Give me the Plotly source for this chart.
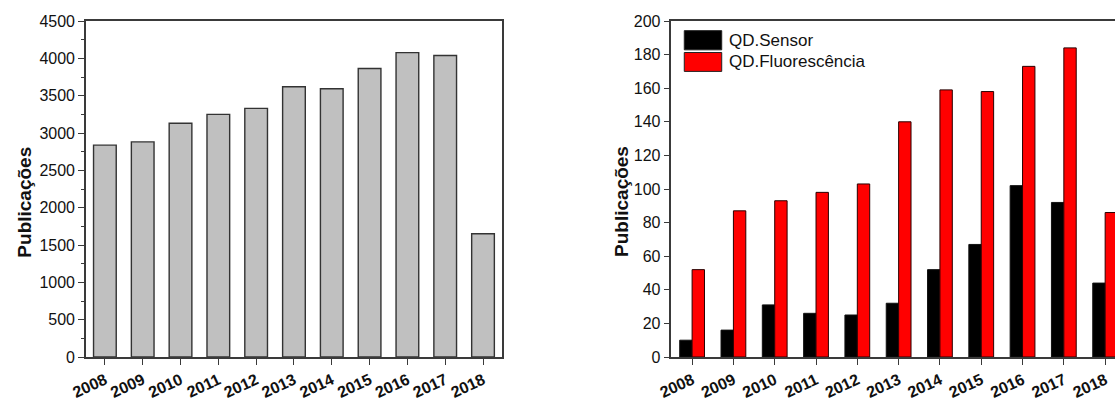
import plotly.graph_objects as go

# Publication counts per year
years = ["2008", "2009", "2010", "2011", "2012", "2013", "2014", "2015", "2016", "2017", "2018"]
total_pubs = [2837, 2881, 3130, 3250, 3330, 3619, 3593, 3864, 4077, 4037, 1650]
sensor_pubs = [10, 16, 31, 26, 25, 32, 52, 67, 102, 92, 44]
fluor_pubs = [52, 87, 93, 98, 103, 140, 159, 158, 173, 184, 86]
left_yticks = [0, 500, 1000, 1500, 2000, 2500, 3000, 3500, 4000, 4500]
right_yticks = [0, 20, 40, 60, 80, 100, 120, 140, 160, 180, 200]

W, H = 1115, 401
FONT = "Liberation Sans, Arial, sans-serif"
AXIS_COLOR = "#3a3a3a"

# Pixel layout of the two panels
L_X0, L_X1 = 71, 493
R_X0 = 665
R_W = W - R_X0
PLOT_TOP, PLOT_H = 21, 338

fig = go.Figure()

fig.add_trace(go.Bar(
    x=years, y=total_pubs, xaxis="x", yaxis="y", showlegend=False,
    marker=dict(color="#c0c0c0", line=dict(color="#333333", width=1.4)),
))
fig.add_trace(go.Bar(
    x=years, y=sensor_pubs, xaxis="x2", yaxis="y2", name="QD.Sensor", showlegend=False,
    marker=dict(color="#000000", line=dict(color="#111111", width=1)),
))
fig.add_trace(go.Bar(
    x=years, y=fluor_pubs, xaxis="x2", yaxis="y2", name="QD.Fluorescência", showlegend=False,
    marker=dict(color="#ff0000", line=dict(color="#2a0000", width=1)),
))

xcommon = dict(
    type="category", showgrid=False, zeroline=False,
    showline=True, linecolor=AXIS_COLOR, linewidth=1.6,
    ticks="outside", ticklen=6, tickwidth=1.3, tickcolor=AXIS_COLOR,
    tickangle=-25,
    tickfont=dict(family=FONT, size=16, color="#111111", weight="bold"),
    fixedrange=True,
)
ycommon = dict(
    showgrid=False, zeroline=False,
    showline=True, linecolor=AXIS_COLOR, linewidth=1.6,
    ticks="outside", ticklen=6, tickwidth=1.3, tickcolor=AXIS_COLOR,
    tickfont=dict(family=FONT, size=16, color="#111111"),
    fixedrange=True,
)

n_vis = (W - R_X0) / ((1105 - R_X0) / 10.5) - 0.5

fig.update_layout(
    width=W, height=H,
    margin=dict(l=0, r=0, t=PLOT_TOP, b=H - PLOT_TOP - PLOT_H),
    paper_bgcolor="white", plot_bgcolor="white",
    barmode="group", bargap=0.4, bargroupgap=0,
    font=dict(family=FONT),
    xaxis=dict(**xcommon, domain=[L_X0 / W, L_X1 / W], range=[-0.5, 10.5],
               mirror=True, anchor="y"),
    yaxis=dict(**ycommon, domain=[0, 1], range=[0, 4500],
               tickvals=left_yticks, mirror=True, anchor="x",
               minor=dict(dtick=250, ticks="outside", ticklen=3,
                          tickwidth=1.2, tickcolor=AXIS_COLOR, showgrid=False)),
    xaxis2=dict(**xcommon, domain=[R_X0 / W, 1], range=[-0.5, n_vis],
                mirror=True, anchor="y2"),
    yaxis2=dict(**ycommon, domain=[0, 1], range=[0, 200],
                tickvals=right_yticks, mirror=False, anchor="x2"),
)

# Vertical axis titles
for xpix in (9, 615):
    fig.add_annotation(
        x=xpix / W, y=0.462, xref="paper", yref="paper",
        text="Publicações", textangle=-90, showarrow=False,
        font=dict(family=FONT, size=19, color="#111111", weight="bold"),
        xanchor="center", yanchor="middle",
    )

# Legend of the grouped chart: colour boxes with labels
legend_items = [("QD.Sensor", "#000000"), ("QD.Fluorescência", "#ff0000")]
box_rows = [(30.7, 50.0), (52.7, 71.7)]
bx0, bx1 = 678, 716
for (label, color), (ytop, ybot) in zip(legend_items, box_rows):
    y0 = 1 - (ybot - PLOT_TOP) / PLOT_H
    y1 = 1 - (ytop - PLOT_TOP) / PLOT_H
    fig.add_shape(
        type="rect", xref="x2 domain", yref="y2 domain",
        x0=(bx0 - R_X0) / R_W, x1=(bx1 - R_X0) / R_W, y0=y0, y1=y1,
        fillcolor=color, line=dict(color="#222222", width=1),
    )
    fig.add_annotation(
        x=(bx1 + 5 - R_X0) / R_W, y=(y0 + y1) / 2, xref="x2 domain", yref="y2 domain",
        text=label, showarrow=False, xanchor="left", yanchor="middle",
        font=dict(family=FONT, size=17, color="#111111"),
    )

fig.write_html("out.html")
